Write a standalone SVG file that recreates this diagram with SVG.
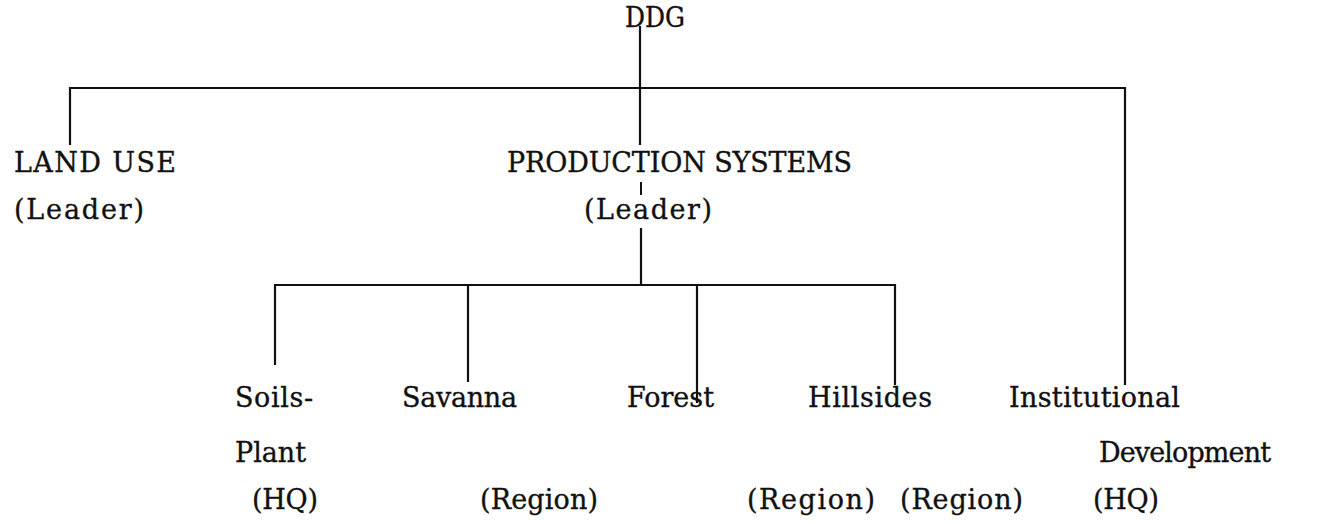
<svg xmlns="http://www.w3.org/2000/svg" width="1325" height="524" viewBox="0 0 1325 524">
<style>
text { font-family: "DejaVu Serif", "Liberation Serif", serif; font-size: 27px; fill: #111; stroke: #111; stroke-width: 0.35; }
.ln { stroke: #111; stroke-width: 2.2; fill: none; }
.dash { stroke: #111; stroke-width: 2; fill: none; }
</style>
<rect width="1325" height="524" fill="#fff"/>
<g id="connectors">
  <path class="ln" d="M640 26 V145"/>
  <path class="dash" d="M641 182 V195"/>
  <path class="ln" d="M641 228 V285"/>
  <path class="ln" d="M70 145 V88 H1125 V385"/>
  <path class="ln" d="M275 365 V285 H895 V385"/>
  <path class="ln" d="M468 285 V382"/>
  <path class="ln" d="M697 286 V403"/>
</g>
<g id="ddg"><text x="625" y="27" textLength="60" lengthAdjust="spacingAndGlyphs">DDG</text></g>
<g id="land-use">
  <text x="14" y="172" textLength="162" lengthAdjust="spacing">LAND USE</text>
  <text x="14" y="219" textLength="130" lengthAdjust="spacing">(Leader)</text>
</g>
<g id="production-systems">
  <text x="507" y="172" textLength="345" lengthAdjust="spacing">PRODUCTION SYSTEMS</text>
  <text x="584" y="219" textLength="128" lengthAdjust="spacing">(Leader)</text>
</g>
<g id="soils-plant">
  <text x="235" y="407" textLength="78" lengthAdjust="spacing">Soils-</text>
  <text x="235" y="462" textLength="71" lengthAdjust="spacing">Plant</text>
  <text x="252" y="509" textLength="66" lengthAdjust="spacing">(HQ)</text>
</g>
<g id="savanna">
  <text x="402" y="407" textLength="115" lengthAdjust="spacing">Savanna</text>
  <text x="480" y="509" textLength="118" lengthAdjust="spacing">(Region)</text>
</g>
<g id="forest">
  <text x="627" y="407" textLength="87" lengthAdjust="spacing">Forest</text>
  <text x="747" y="509" textLength="128" lengthAdjust="spacing">(Region)</text>
</g>
<g id="hillsides">
  <text x="808" y="407" textLength="124" lengthAdjust="spacing">Hillsides</text>
  <text x="900" y="509" textLength="123" lengthAdjust="spacing">(Region)</text>
</g>
<g id="institutional-development">
  <text x="1009" y="407" textLength="171" lengthAdjust="spacing">Institutional</text>
  <text x="1099" y="462" textLength="172" lengthAdjust="spacing">Development</text>
  <text x="1093" y="509" textLength="66" lengthAdjust="spacing">(HQ)</text>
</g>
</svg>
